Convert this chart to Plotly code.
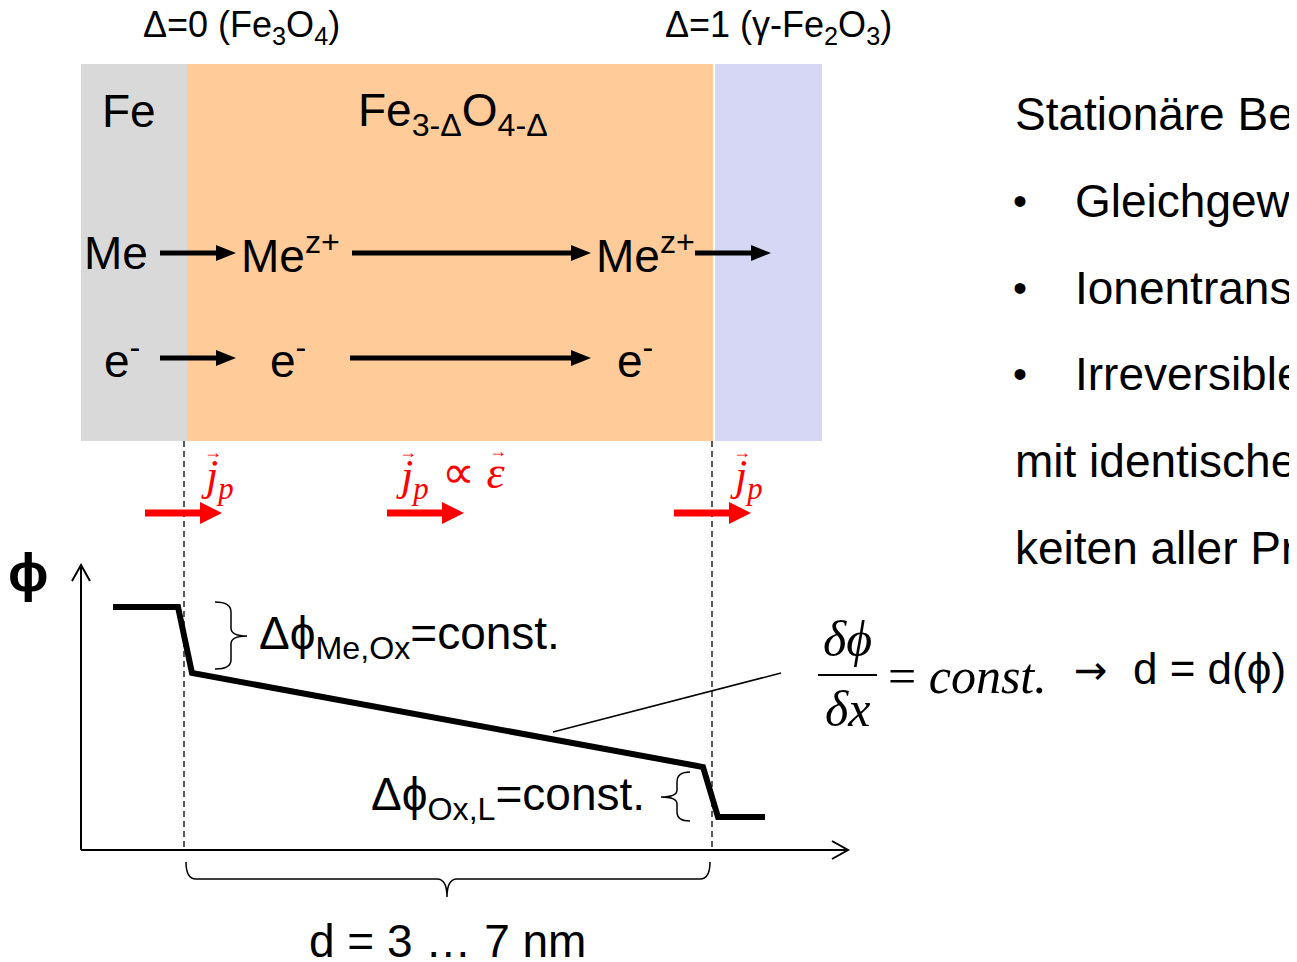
import plotly.graph_objects as go

# Layers of the oxide scale (left to right) and their fill colours
layer_names = ["Fe", "Fe<sub>3-Δ</sub>O<sub>4-Δ</sub>", ""]
layer_edges = [81, 187, 714, 822]
layer_colors = ["#d9d9d9", "#fecb99", "#d5d7f5"]

# Interfaces (dashed lines) and their labels
interface_x = [184, 712]
interface_labels = ["Δ=0 (Fe<sub>3</sub>O<sub>4</sub>)", "Δ=1 (γ-Fe<sub>2</sub>O<sub>3</sub>)"]

# Potential profile phi(x)
profile_x = [113, 178, 192, 703, 718, 765]
profile_phi = [607, 607, 673, 767, 817, 817]

# Species transport rows
species_rows = [
    ["Me", "Me<sup>z+</sup>", "Me<sup>z+</sup>"],
    ["e<sup>-</sup>", "e<sup>-</sup>", "e<sup>-</sup>"],
]

# Right-hand text block
side_lines = [
    ("", "Stationäre Bedingungen:"),
    ("•", "Gleichgewicht an den Phasengrenzen"),
    ("•", "Ionentransport durch die Schicht"),
    ("•", "Irreversible Reaktion an der Oberfläche"),
    ("", "mit identischen Geschwindig-"),
    ("", "keiten aller Prozesse"),
]

SANS = "Liberation Sans, Arial, sans-serif"
SERIF = "Liberation Serif, Times New Roman, serif"
PAGE_OFFSET = 8  # default body margin of the html page

fig = go.Figure()


def add_arrow(x0, x1, y, color, shaft, head_len, head_half):
    fig.add_shape(type="line", x0=x0, x1=x1 - head_len + 1, y0=y, y1=y,
                  line=dict(color=color, width=shaft))
    fig.add_shape(type="path",
                  path=f"M {x1 - head_len},{y - head_half} L {x1},{y} L {x1 - head_len},{y + head_half} Z",
                  fillcolor=color, line=dict(color=color, width=0))


def text(x, y, s, size, font=SANS, color="black", xanchor="center", yanchor="middle"):
    fig.add_annotation(x=x, y=y, text=s, showarrow=False, xanchor=xanchor, yanchor=yanchor,
                       font=dict(family=font, size=size, color=color))


# Layer rectangles
for i in range(len(layer_colors)):
    fig.add_shape(type="rect", x0=layer_edges[i], x1=layer_edges[i + 1], y0=64, y1=441,
                  fillcolor=layer_colors[i], line=dict(width=0), layer="below")
fig.add_shape(type="line", x0=layer_edges[2], x1=layer_edges[2], y0=64, y1=441,
              line=dict(color="white", width=2))

text(129, 111, layer_names[0], 46)
text(453, 113, layer_names[1], 46)

text(241, 27, interface_labels[0], 36)
text(778, 27, interface_labels[1], 36)

# Species and black arrows
text(116, 253, species_rows[0][0], 46)
text(290, 253, species_rows[0][1], 46)
text(645, 253, species_rows[0][2], 46)
text(122, 358, species_rows[1][0], 46)
text(288, 358, species_rows[1][1], 46)
text(635, 358, species_rows[1][2], 46)

for x0, x1, y in [(160, 236, 253), (352, 591, 253), (695, 771, 253),
                  (160, 236, 358), (350, 591, 358)]:
    add_arrow(x0, x1, y, "black", 5, 20, 8)

# Dashed interface lines
for xi in interface_x:
    fig.add_shape(type="line", x0=xi, x1=xi, y0=441, y1=850,
                  line=dict(color="black", width=1.3, dash="6px,4px"))

# Red flux arrows and labels
for x0 in [145, 387, 674]:
    add_arrow(x0, x0 + 77, 513, "#ff0000", 7, 22, 11)

for xj in [199, 394, 728]:
    text(xj, 478, "<i>j</i><sub><i>p</i></sub>", 44, font=SERIF, color="#ff0000", xanchor="left")
    text(xj + 3, 452, "→", 18, font=SERIF, color="#ff0000", xanchor="left")
text(440, 472, "∝ <i>ε</i>", 46, font=SERIF, color="#ff0000", xanchor="left")
text(487, 451, "→", 18, font=SERIF, color="#ff0000", xanchor="left")

# Axes with open arrow heads
fig.add_shape(type="line", x0=81, x1=81, y0=850, y1=565, line=dict(color="black", width=2))
fig.add_shape(type="path", path="M 72,581 L 81,565 L 90,581", line=dict(color="black", width=2))
fig.add_shape(type="line", x0=81, x1=848, y0=850, y1=850, line=dict(color="black", width=2))
fig.add_shape(type="path", path="M 832,841 L 848,850 L 832,859", line=dict(color="black", width=2))
text(28, 572, "<b>ϕ</b>", 54)

# Potential profile
fig.add_trace(go.Scatter(x=profile_x, y=profile_phi, mode="lines",
                         line=dict(color="black", width=6), hoverinfo="skip", showlegend=False))

# Braces
fig.add_shape(type="path",
              path="M 215,602 Q 231,602 231,612 L 231,628 Q 231,636 247,636 "
                   "Q 231,636 231,644 L 231,660 Q 231,669 215,669",
              line=dict(color="black", width=1.5))
text(257, 636, "Δϕ<sub>Me,Ox</sub>=const.", 46, xanchor="left")

fig.add_shape(type="path",
              path="M 690,772 Q 677,772 677,782 L 677,790 Q 677,797 661,797 "
                   "Q 677,797 677,804 L 677,812 Q 677,821 690,821",
              line=dict(color="black", width=1.5))
text(647, 797, "Δϕ<sub>Ox,L</sub>=const.", 46, xanchor="right")

fig.add_shape(type="path",
              path="M 186,862 Q 186,879 196,879 L 437,879 Q 447,879 447,897 "
                   "Q 447,879 457,879 L 700,879 Q 710,879 710,862",
              line=dict(color="black", width=1.5))
text(447, 941, "d = 3 … 7 nm", 46)

# Gradient pointer and equation
fig.add_trace(go.Scatter(x=[553, 781], y=[732, 673], mode="lines",
                         line=dict(color="black", width=1.5), hoverinfo="skip", showlegend=False))
fig.add_shape(type="line", x0=818, x1=877, y0=675, y1=675, line=dict(color="black", width=2))
text(847, 639, "<i>δϕ</i>", 50, font=SERIF)
text(847, 709, "<i>δx</i>", 50, font=SERIF)
text(886, 676, "= <i>const.</i>", 50, font=SERIF, xanchor="left")
text(1072, 670, "→", 40, font="DejaVu Sans", xanchor="left")
text(1131, 668, "d = d(ϕ)", 44, xanchor="left")

# Side text block
for k, (bullet, line) in enumerate(side_lines):
    y = 114 + k * 86.8
    if bullet:
        text(1020, y, bullet, 40)
        text(1073, y, line, 46, xanchor="left")
    else:
        text(1013, y, line, 46, xanchor="left")

fig.update_layout(
    width=1297, height=962,
    margin=dict(l=0, r=0, t=0, b=0),
    plot_bgcolor="white", paper_bgcolor="white",
    xaxis=dict(range=[PAGE_OFFSET, 1297 + PAGE_OFFSET], visible=False, fixedrange=True),
    yaxis=dict(range=[962 + PAGE_OFFSET, PAGE_OFFSET], visible=False, fixedrange=True),
    showlegend=False,
)

fig.write_html("out.html")
